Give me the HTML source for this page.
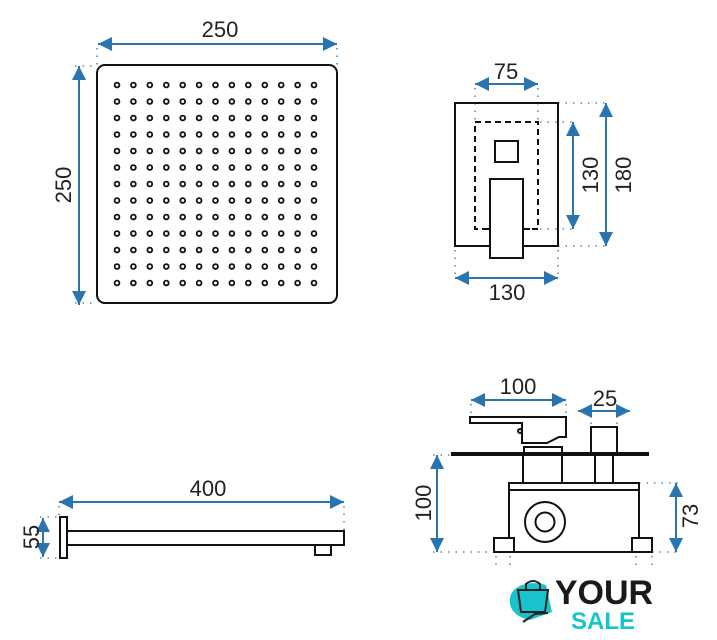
<!DOCTYPE html>
<html><head><style>body{margin:0;background:#fff}svg{display:block}</style></head><body>
<svg width="717" height="640" viewBox="0 0 717 640" xmlns="http://www.w3.org/2000/svg" font-family="Liberation Sans, sans-serif">
<defs>
<marker id="a" viewBox="0 0 10 10" refX="10" refY="5" markerWidth="9" markerHeight="7" orient="auto-start-reverse"><path d="M0,0L10,5L0,10z" fill="#2a74b0"/></marker>
<g id="r0"><circle cx="117" cy="85" r="2.4"/><circle cx="133.4" cy="85" r="2.4"/><circle cx="149.8" cy="85" r="2.4"/><circle cx="166.3" cy="85" r="2.4"/><circle cx="182.7" cy="85" r="2.4"/><circle cx="199.1" cy="85" r="2.4"/><circle cx="215.5" cy="85" r="2.4"/><circle cx="231.9" cy="85" r="2.4"/><circle cx="248.3" cy="85" r="2.4"/><circle cx="264.8" cy="85" r="2.4"/><circle cx="281.2" cy="85" r="2.4"/><circle cx="297.6" cy="85" r="2.4"/><circle cx="314" cy="85" r="2.4"/></g>
</defs>
<g stroke="#2a74b0" stroke-width="2" fill="none">
<line x1="98" y1="44" x2="337" y2="44" marker-start="url(#a)" marker-end="url(#a)"/>
<line x1="79" y1="66" x2="79" y2="305" marker-start="url(#a)" marker-end="url(#a)"/>
<line x1="475" y1="84" x2="538" y2="84" marker-start="url(#a)" marker-end="url(#a)"/>
<line x1="455" y1="278" x2="558" y2="278" marker-start="url(#a)" marker-end="url(#a)"/>
<line x1="573" y1="122" x2="573" y2="229" marker-start="url(#a)" marker-end="url(#a)"/>
<line x1="606" y1="103" x2="606" y2="246" marker-start="url(#a)" marker-end="url(#a)"/>
<line x1="59" y1="502" x2="344" y2="502" marker-start="url(#a)" marker-end="url(#a)"/>
<line x1="43" y1="518" x2="43" y2="557" marker-start="url(#a)" marker-end="url(#a)"/>
<line x1="471" y1="400" x2="566" y2="400" marker-start="url(#a)" marker-end="url(#a)"/>
<line x1="578" y1="411" x2="630" y2="411" marker-start="url(#a)" marker-end="url(#a)"/>
<line x1="437" y1="455" x2="437" y2="552" marker-start="url(#a)" marker-end="url(#a)"/>
<line x1="676" y1="483" x2="676" y2="552" marker-start="url(#a)" marker-end="url(#a)"/>
</g>
<g stroke="#2a74b0" stroke-width="1.3" stroke-dasharray="1.5 6" fill="none">
<path d="M97,48V65M337,48V65M75,66H97M75,303H97"/>
<path d="M475,88V122M538,88V122M455,250V274M558,250V274M540,122H577M558,103H610M540,229H577M558,246H610"/>
<path d="M59,506V518M344,506V530M40,517H60M40,558H60"/>
<path d="M471,404V417M566,404V417M591,415V427M617,415V427M433,455H451M433,552H494M639,483H680M652,552H680M496,556V565M510,556V565M636,556V565M652,556V565"/>
</g>
<g font-size="22" fill="#222" text-anchor="middle">
<text x="220" y="37">250</text>
<text transform="translate(71,185) rotate(-90)">250</text>
<text x="506" y="79">75</text>
<text x="507" y="300">130</text>
<text transform="translate(598,175) rotate(-90)">130</text>
<text transform="translate(631,175) rotate(-90)">180</text>
<text x="208" y="496">400</text>
<text transform="translate(39,537) rotate(-90)">55</text>
<text x="518" y="394">100</text>
<text x="605" y="406">25</text>
<text transform="translate(431,503) rotate(-90)">100</text>
<text transform="translate(698,516) rotate(-90)">73</text>
</g>
<g fill="none" stroke="#111" stroke-width="2">
<rect x="97" y="65" width="240" height="238" rx="8"/>
<rect x="455" y="103" width="103" height="143"/>
<rect x="475" y="122" width="63" height="107" stroke-dasharray="6 4"/>
<rect x="495" y="141" width="23" height="21"/>
<rect x="490" y="179" width="33" height="79" fill="#fff"/>
<path d="M483,229H490M523,229H530"/>
<rect x="60" y="517" width="7" height="41"/>
<rect x="67" y="531" width="277" height="14"/>
<rect x="315" y="545" width="16" height="10"/>
<path d="M470,417H566V437H559L547,443H522V423H470Z"/>
<circle cx="520" cy="431" r="2"/>
<rect x="524" y="447" width="38" height="6"/>
<rect x="523" y="454" width="39" height="29"/>
<rect x="591" y="427" width="26" height="27"/>
<rect x="595" y="454" width="18" height="29"/>
<rect x="509" y="483" width="130" height="7"/>
<rect x="509" y="490" width="130" height="62"/>
<rect x="494" y="538" width="20" height="14" fill="#fff"/>
<rect x="632" y="538" width="20" height="14" fill="#fff"/>
<circle cx="545" cy="522" r="20"/>
<circle cx="545" cy="522" r="9.5"/>
</g>
<line x1="451" y1="454" x2="649" y2="454" stroke="#111" stroke-width="4"/>
<g fill="none" stroke="#111" stroke-width="1.8">
<use href="#r0"/><use href="#r0" y="16.5"/><use href="#r0" y="33"/><use href="#r0" y="49.5"/><use href="#r0" y="66"/><use href="#r0" y="82.5"/><use href="#r0" y="99"/><use href="#r0" y="115.5"/><use href="#r0" y="132"/><use href="#r0" y="148.5"/><use href="#r0" y="165"/><use href="#r0" y="181.5"/><use href="#r0" y="198"/>
</g>
<path d="M510,598C512,585 530,580 546,585L552,612L530,620C518,618 508,610 510,598Z" fill="#19c3cc"/>
<g fill="none" stroke="#222" stroke-width="2"><path d="M518,590H548L545,612H521Z M526,590V584Q533,578 540,584V590"/><path d="M523,622L535,614L548,613"/></g>
<text x="604" y="604" font-size="34" font-weight="bold" fill="#1a1a1a" text-anchor="middle">YOUR</text>
<text x="603" y="629" font-size="24" font-weight="bold" fill="#19c3cc" text-anchor="middle">SALE</text>
</svg>
</body></html>
